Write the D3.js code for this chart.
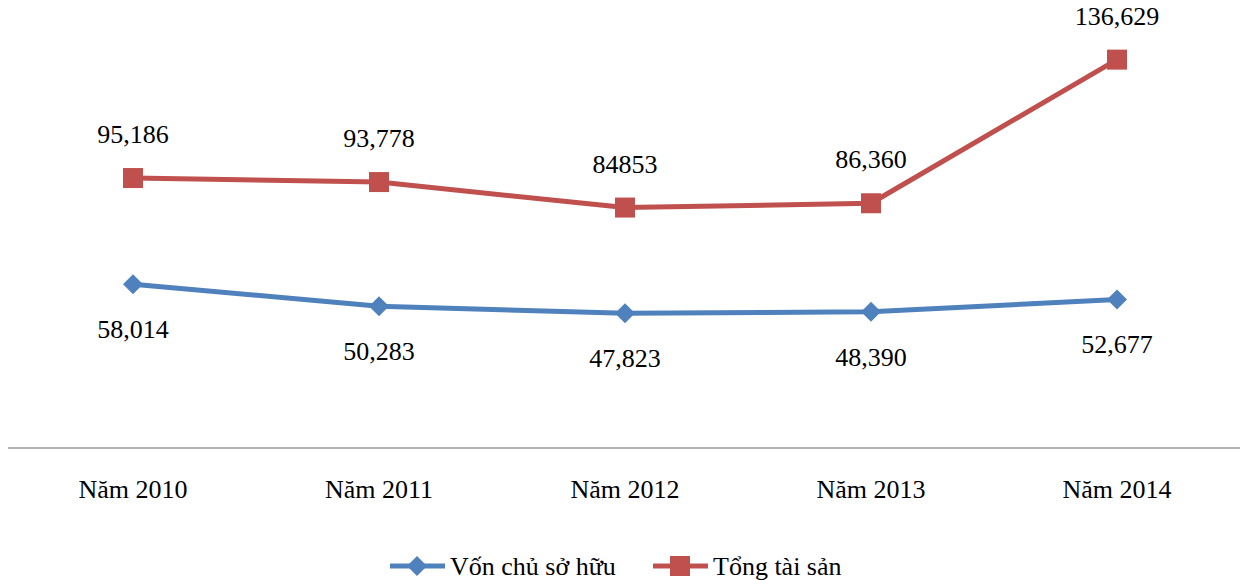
<!DOCTYPE html>
<html>
<head>
<meta charset="utf-8">
<script src="https://cdn.jsdelivr.net/npm/d3@7"></script>
<style>
  body { margin: 0; background: #fff; }
  text { font-family: "Liberation Serif", "Times New Roman", serif; fill: #000; }
</style>
</head>
<body>
<svg id="chart" width="1243" height="580"></svg>
<script>
var years = ["Năm 2010", "Năm 2011", "Năm 2012", "Năm 2013", "Năm 2014"];
var vonChuSoHuu = [58014, 50283, 47823, 48390, 52677];
var tongTaiSan = [95186, 93778, 84853, 86360, 136629];
var vonLabels = ["58,014", "50,283", "47,823", "48,390", "52,677"];
var tongLabels = ["95,186", "93,778", "84853", "86,360", "136,629"];

var svg = d3.select("#chart");
var fontSize = 26;

var x = d3.scaleBand().domain(years).range([10, 1240]);
var y = d3.scaleLinear().domain([0, 157500]).range([450, 0]);
var cx = function(d, i) { return x(years[i]) + x.bandwidth() / 2; };

// axis line
svg.append("line")
  .attr("x1", 8).attr("x2", 1240)
  .attr("y1", 448).attr("y2", 448)
  .attr("stroke", "#9a9a9a").attr("stroke-width", 1.5);

svg.selectAll("text.xlab").data(years).enter().append("text")
  .attr("class", "xlab")
  .attr("x", function(d) { return x(d) + x.bandwidth() / 2; })
  .attr("y", 498)
  .attr("text-anchor", "middle")
  .attr("font-size", fontSize)
  .text(function(d) { return d; });

var line = d3.line().x(cx).y(function(d) { return y(d); });

var series = [
  { name: "Vốn chủ sở hữu", values: vonChuSoHuu, labels: vonLabels, color: "#4F81BD", marker: "diamond", dy: 54 },
  { name: "Tổng tài sản", values: tongTaiSan, labels: tongLabels, color: "#C0504D", marker: "square", dy: -35 }
];

function drawMarker(g, type, color) {
  if (type === "square") {
    g.append("rect").attr("x", -10).attr("y", -10).attr("width", 20).attr("height", 20).attr("fill", color);
  } else {
    g.append("path").attr("d", "M0,-10L10,0L0,10L-10,0Z").attr("fill", color);
  }
}

series.forEach(function(s) {
  svg.append("path")
    .datum(s.values)
    .attr("d", line)
    .attr("fill", "none")
    .attr("stroke", s.color)
    .attr("stroke-width", 5)
    .attr("stroke-linejoin", "round");

  s.values.forEach(function(v, i) {
    var g = svg.append("g").attr("transform", "translate(" + cx(v, i) + "," + y(v) + ")");
    drawMarker(g, s.marker, s.color);
    svg.append("text")
      .attr("x", cx(v, i))
      .attr("y", y(v) + s.dy)
      .attr("text-anchor", "middle")
      .attr("font-size", fontSize)
      .text(s.labels[i]);
  });
});

// legend
var legendItems = [
  { s: series[0], x0: 390 },
  { s: series[1], x0: 653 }
];
legendItems.forEach(function(it) {
  var ly = 566;
  svg.append("line")
    .attr("x1", it.x0).attr("x2", it.x0 + 55)
    .attr("y1", ly).attr("y2", ly)
    .attr("stroke", it.s.color).attr("stroke-width", 5);
  var g = svg.append("g").attr("transform", "translate(" + (it.x0 + 27) + "," + ly + ")");
  drawMarker(g, it.s.marker, it.s.color);
  svg.append("text")
    .attr("x", it.x0 + 60)
    .attr("y", ly + 9)
    .attr("font-size", fontSize)
    .text(it.s.name);
});
</script>
</body>
</html>
